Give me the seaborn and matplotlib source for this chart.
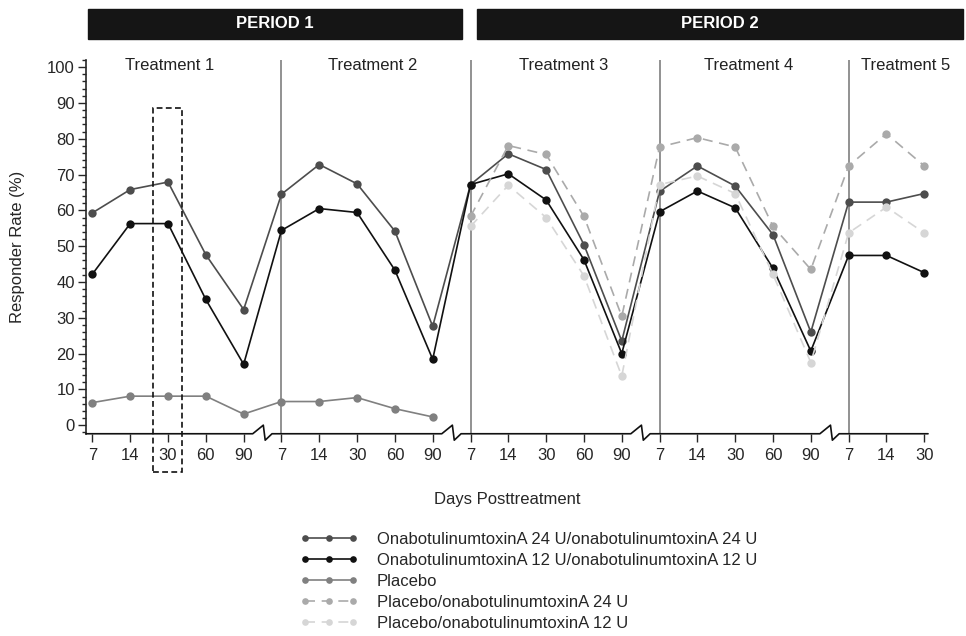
import numpy as np
import pandas as pd
import matplotlib.pyplot as plt
import seaborn as sns
from matplotlib.patches import Rectangle
from matplotlib.ticker import MultipleLocator

sns.set_style('ticks')
plt.rcParams['font.family'] = ['Liberation Sans', 'DejaVu Sans']

# tick labels on the x axis (days after each treatment)
days = ['7', '14', '30', '60', '90'] * 4 + ['7', '14', '30']
treatments = ['Treatment 1', 'Treatment 2', 'Treatment 3', 'Treatment 4', 'Treatment 5']
periods = ['PERIOD 1', 'PERIOD 2']

# responder rate (%) for each series, one value per x position
ona24 = [59.3, 65.8, 67.9, 47.6, 32.3, 64.5, 72.8, 67.4, 54.2, 27.6,
         67.2, 75.8, 71.4, 50.4, 23.5, 65.3, 72.4, 66.8, 53.2, 26.0,
         62.3, 62.3, 64.7]
ona12 = [42.2, 56.3, 56.3, 35.1, 17.0, 54.4, 60.5, 59.4, 43.3, 18.4,
         67.2, 70.2, 62.9, 46.2, 20.0, 59.6, 65.4, 60.7, 43.8, 20.7,
         47.4, 47.4, 42.6]
placebo = [6.3, 8.1, 8.1, 8.1, 3.1, 6.6, 6.6, 7.7, 4.6, 2.3]
pla_ona24 = [58.3, 78.1, 75.6, 58.3, 30.4, 77.7, 80.3, 77.7, 55.5, 43.5,
             72.4, 81.4, 72.4]
pla_ona12 = [55.5, 67.0, 58.0, 41.7, 13.7, 67.2, 69.6, 64.7, 42.1, 17.5,
             53.7, 60.9, 53.7]

series = [
    ('OnabotulinumtoxinA 24 U/onabotulinumtoxinA 24 U', ona24, 0, '#4d4d4d', '-'),
    ('OnabotulinumtoxinA 12 U/onabotulinumtoxinA 12 U', ona12, 0, '#111111', '-'),
    ('Placebo', placebo, 0, '#808080', '-'),
    ('Placebo/onabotulinumtoxinA 24 U', pla_ona24, 10, '#aaaaaa', '--'),
    ('Placebo/onabotulinumtoxinA 12 U', pla_ona12, 10, '#d6d6d6', '--'),
]

fig = plt.figure(figsize=(9.66, 6.36), dpi=100)
ax = fig.add_axes([0.089, 0.318, 0.8717, 0.5877])

# treatment separators
for xv in [5, 10, 15, 20]:
    ax.axvline(xv, color='#7f7f7f', lw=1.2, zorder=1)

for name, vals, start, col, ls in series:
    df = pd.DataFrame({'pos': np.arange(start, start + len(vals)), 'rate': vals})
    sns.lineplot(data=df, x='pos', y='rate', ax=ax, color=col, marker='o',
                 markersize=6, markeredgewidth=0, lw=1.2, linestyle=ls,
                 dashes=False, label=name, zorder=3)
    if ls == '--':
        ax.lines[-1].set_dashes((6, 4))

ax.set_xlim(-0.17, 22.1)
ax.set_ylim(-2.4, 102)
ax.set_xticks(range(len(days)))
ax.set_xticklabels(days, fontsize=12)
ax.yaxis.set_major_locator(MultipleLocator(10))
ax.yaxis.set_minor_locator(MultipleLocator(2))
ax.set_yticks(range(0, 101, 10))
ax.tick_params(axis='y', labelsize=12, length=6, width=1, pad=2)
ax.tick_params(axis='y', which='minor', length=3, width=1)
ax.tick_params(axis='x', length=6, width=1, pad=4)
for s in ['top', 'right', 'bottom']:
    ax.spines[s].set_visible(False)
ax.spines['left'].set_linewidth(1.2)

# x axis line with break marks
y0 = -2.4
px, py = [-0.17], [y0]
for b in [4, 9, 14, 19]:
    px += [b + 0.24, b + 0.52, b + 0.57, b + 0.75]
    py += [y0, 0.0, -4.2, y0]
px.append(22.1)
py.append(y0)
ax.plot(px, py, color='#111111', lw=1.2, clip_on=False, zorder=4)

ax.set_xlabel('Days Posttreatment', fontsize=12)
ax.xaxis.set_label_coords(0.5, -0.155)
ax.set_ylabel('Responder Rate (%)', fontsize=12)
ax.yaxis.set_label_coords(-0.072, 0.5)

# dashed box round day 30 of treatment 1
ax.add_patch(Rectangle((1.6, -13.1), 0.77, 101.6, fill=False, ls=(0, (3.5, 2)),
                       lw=1.2, ec='#111111', clip_on=False, zorder=5))

# treatment labels
tr = ax.get_xaxis_transform()
for lab, xc in zip(treatments, [2.05, 7.4, 12.45, 17.35, 21.5]):
    ax.text(xc, 0.984, lab, transform=tr, ha='center', va='center',
            fontsize=12, color='#222222', clip_on=False)

# period header bars
for lab, (x0, x1) in zip(periods, [(-0.11, 9.78), (10.18, 23.03)]):
    ax.add_patch(Rectangle((x0, 1.0562), x1 - x0, 0.0803, transform=tr,
                           color='#151515', clip_on=False))
    ax.text((x0 + x1) / 2, 1.0963, lab, transform=tr, ha='center', va='center',
            fontsize=12, fontweight='bold', color='white', clip_on=False)

ax.legend(loc='upper left', bbox_to_anchor=(0.3106, 0.163),
          bbox_transform=fig.transFigure, frameon=False, fontsize=12,
          numpoints=3, markerscale=0.8, handlelength=3.5, handletextpad=1.1,
          labelspacing=0.36, borderpad=0, borderaxespad=0)

fig.savefig('out.png', dpi=100)
